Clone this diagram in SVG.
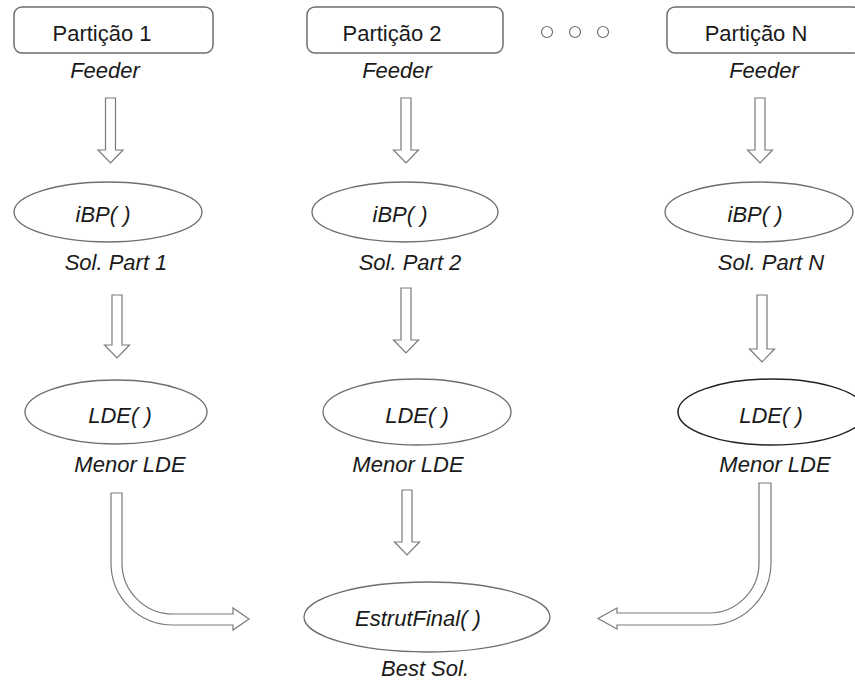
<svg xmlns="http://www.w3.org/2000/svg" width="855" height="684" viewBox="0 0 855 684">
<style>
.box{fill:#fff;stroke:#6e6e6e;stroke-width:1.5}
.ell{fill:#fff;stroke:#6e6e6e;stroke-width:1.3}
.ellb{fill:#fff;stroke:#222;stroke-width:1.5}
.arr{fill:#fff;stroke:#7a7a7a;stroke-width:1.2;stroke-linejoin:miter}
.dot{fill:#fff;stroke:#6e6e6e;stroke-width:1.2}
text{font-family:"Liberation Sans",Arial,sans-serif;font-size:22px;fill:#1a1a1a;text-anchor:middle}
.it{font-style:italic}
</style>
<rect width="855" height="684" fill="#fff"/>
<g id="part1"><rect class="box" x="14" y="7" width="199" height="46" rx="8"/><text x="102" y="41">Partição 1</text><text class="it" x="105" y="78">Feeder</text></g>
<g id="part2"><rect class="box" x="307" y="7" width="196" height="46" rx="8"/><text x="392" y="41">Partição 2</text><text class="it" x="397" y="78">Feeder</text></g>
<g id="partN"><rect class="box" x="667" y="7" width="194" height="46" rx="8"/><text x="756" y="41">Partição N</text><text class="it" x="764" y="78">Feeder</text></g>
<g id="dots"><circle class="dot" cx="547" cy="32" r="5.5"/><circle class="dot" cx="575" cy="32" r="5.5"/><circle class="dot" cx="603" cy="32" r="5.5"/></g>
<g id="ibp1"><ellipse class="ell" cx="108" cy="212" rx="94" ry="30"/><text class="it" x="103" y="222">iBP( )</text><text class="it" x="116" y="270">Sol. Part 1</text></g>
<g id="ibp2"><ellipse class="ell" cx="405" cy="212" rx="93" ry="30"/><text class="it" x="400" y="222">iBP( )</text><text class="it" x="410" y="270">Sol. Part 2</text></g>
<g id="ibpN"><ellipse class="ell" cx="759" cy="212" rx="94" ry="30"/><text class="it" x="755" y="222">iBP( )</text><text class="it" x="771" y="270">Sol. Part N</text></g>
<g id="lde1"><ellipse class="ell" cx="116" cy="412" rx="91" ry="32"/><text class="it" x="120" y="423">LDE( )</text><text class="it" x="130" y="472">Menor LDE</text></g>
<g id="lde2"><ellipse class="ell" cx="417" cy="412" rx="94" ry="33"/><text class="it" x="417" y="423">LDE( )</text><text class="it" x="408" y="472">Menor LDE</text></g>
<g id="ldeN"><ellipse class="ellb" cx="772" cy="412" rx="94" ry="33"/><text class="it" x="771" y="423">LDE( )</text><text class="it" x="775" y="472">Menor LDE</text></g>
<g id="final"><ellipse class="ell" cx="427" cy="617" rx="123" ry="35"/><text class="it" x="418" y="626">EstrutFinal( )</text><text class="it" x="425" y="676">Best Sol.</text></g>
<g id="connectors">
<path class="arr" d="M105.5,98 H115.5 V150 H123 L110.5,163 L98,150 H105.5 Z"/>
<path class="arr" d="M401,98 H411 V150 H418.5 L406,163 L393.5,150 H401 Z"/>
<path class="arr" d="M755,98 H765 V150 H772.5 L760,163 L747.5,150 H755 Z"/>
<path class="arr" d="M112,295 H122 V345 H129.5 L117,358 L104.5,345 H112 Z"/>
<path class="arr" d="M401,288 H411 V340 H418.5 L406,353 L393.5,340 H401 Z"/>
<path class="arr" d="M757,295 H767 V349 H774.5 L762,362 L749.5,349 H757 Z"/>
<path class="arr" d="M402,490 H412 V542 H419.5 L407,555 L394.5,542 H402 Z"/>
<path class="arr" d="M111,493 V563 A62,62 0 0 0 173,625 H233 V630 L249,619 L233,608 V614 H173 A51,51 0 0 1 122,563 V493 Z"/>
<path class="arr" d="M771,483 V563 A62,62 0 0 1 709,625 H617 V629 L598,618.5 L617,608 V613 H709 A50,50 0 0 0 759,563 V483 Z"/>
</g>
</svg>
